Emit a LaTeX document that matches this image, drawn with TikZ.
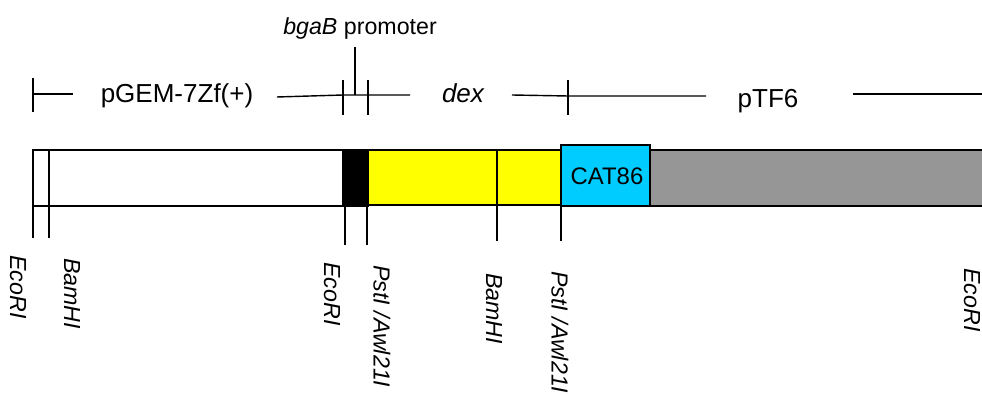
\documentclass[tikz,border=0pt]{standalone}
\usepackage{fontspec}
\setmainfont{Liberation Sans}
\usepackage{tikz}

\definecolor{dexyellow}{RGB}{255,255,0}
\definecolor{catblue}{RGB}{0,204,255}
\definecolor{vecgray}{RGB}{150,150,150}

\tikzset{
  bar/.style={draw=black, line width=1.5pt},
  scaleline/.style={line width=1pt},
  siteline/.style={line width=1pt},
  toplabel/.style={font=\fontsize{18.5}{20}\selectfont, anchor=base, inner sep=0pt},
  sitelabel/.style={font=\fontsize{16.5}{19}\selectfont\itshape, rotate=-90, anchor=west, inner sep=0pt},
}

\begin{document}
\begin{tikzpicture}[x=0.025cm,y=-0.025cm] % 1 unit = 1 px
\useasboundingbox (0,0) rectangle (982,398);

% regions above the construct
\draw[scaleline] (33,78) -- (33,112);
\draw[scaleline] (33,94) -- (73,94);
\node[toplabel] (pgem) at (177,103) {pGEM-7Zf(+)};
\draw[scaleline] (277,97) -- (343,95) -- (410,95);
\foreach \x in {343,368,568} {
\draw[scaleline] (\x,80) -- (\x,115);
}
\draw[scaleline] (355,47) -- (355,95);
\node[toplabel,font=\fontsize{16.5}{18}\selectfont] (prom) at (360,35) {\textit{bgaB} promoter};
\node[toplabel] (dex) at (463,103) {\itshape dex};
\draw[scaleline] (512,95) -- (568,96) -- (706,96);
\node[toplabel] (ptf) at (768,108) {pTF6};
\draw[scaleline] (853,94) -- (990,94);

% the construct
\draw[bar] (33,150) rectangle (343,206);
\draw[bar,fill=black] (343,150) rectangle (368,206);
\draw[bar,fill=dexyellow] (368,150) rectangle (561,205);
\draw[bar,fill=vecgray] (650,150) rectangle (990,206);
\draw[bar,fill=catblue] (561,145) rectangle (650,206);
\node[anchor=base,inner sep=0pt,font=\fontsize{17}{19}\selectfont] (cat) at (607,185) {CAT86};

% restriction sites
\draw[siteline] (49,150) -- (49,238);
\draw[siteline] (497,150) -- (497,241);
\foreach \x/\len in {33/238, 345/245, 367/245, 561/241} {
\draw[siteline] (\x,206) -- (\x,\len);
}

\foreach \x/\y/\enz [count=\i] in {18/255/EcoRI, 72/258/BamHI, 332/262/EcoRI,
    382/265/{PstI /Awl21I}, 494/273/BamHI, 560/271/{PstI /Awl21I}, 972/268/EcoRI} {
\node[sitelabel] (site\i) at (\x,\y) {\enz};
}
\end{tikzpicture}
\end{document}
